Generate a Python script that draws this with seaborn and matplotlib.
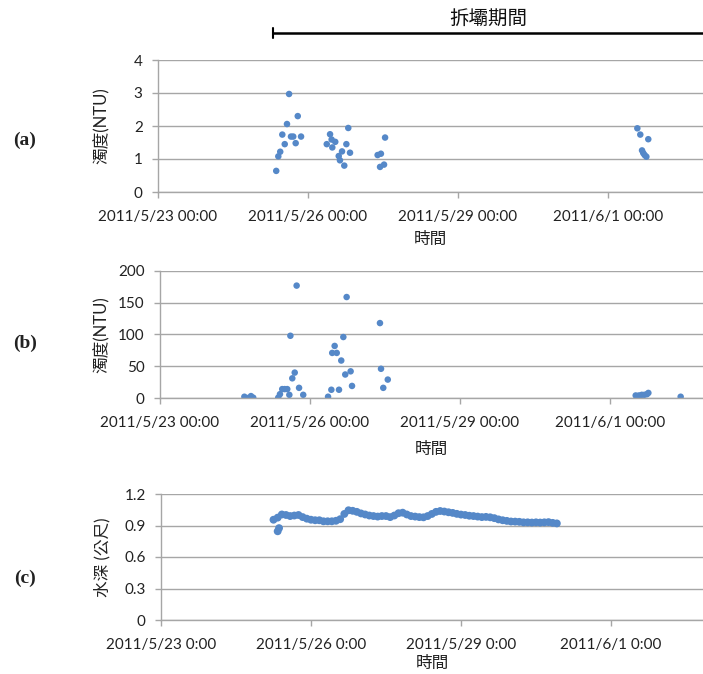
import matplotlib
matplotlib.use("Agg")
import matplotlib.pyplot as plt
import matplotlib.transforms as mtransforms
import pandas as pd
import seaborn as sns

# (a) 濁度 - first station
turb_a_time = [
    "2011-05-25 08:45", "2011-05-25 09:45", "2011-05-25 10:40", "2011-05-25 11:40",
    "2011-05-25 12:50", "2011-05-25 13:55", "2011-05-25 14:55", "2011-05-25 15:50",
    "2011-05-25 16:55", "2011-05-25 18:05", "2011-05-25 19:05", "2011-05-25 20:40",
    "2011-05-26 09:00", "2011-05-26 10:35", "2011-05-26 11:20", "2011-05-26 11:40",
    "2011-05-26 13:05", "2011-05-26 14:45", "2011-05-26 15:20", "2011-05-26 16:20",
    "2011-05-26 17:25", "2011-05-26 18:25", "2011-05-26 19:20", "2011-05-26 20:10",
    "2011-05-27 09:25", "2011-05-27 10:35", "2011-05-27 11:00", "2011-05-27 12:30",
    "2011-05-27 13:00", "2011-06-01 14:05", "2011-06-01 15:30", "2011-06-01 16:20",
    "2011-06-01 16:55", "2011-06-01 17:35", "2011-06-01 18:25", "2011-06-01 19:20",
]
turb_a_ntu = [
    0.64, 1.08, 1.22, 1.74, 1.45, 2.06, 2.97, 1.68, 1.68, 1.48, 2.30, 1.68,
    1.45, 1.75, 1.59, 1.35, 1.52, 1.09, 0.96, 1.23, 0.80, 1.45, 1.94, 1.19,
    1.12, 0.76, 1.16, 0.83, 1.65, 1.93, 1.74, 1.26, 1.18, 1.12, 1.07, 1.60,
]

# (b) 濁度 - second station
turb_b_time = [
    "2011-05-24 16:30", "2011-05-24 18:05", "2011-05-24 19:40", "2011-05-24 20:45",
    "2011-05-25 08:45", "2011-05-25 09:35", "2011-05-25 10:40", "2011-05-25 11:50",
    "2011-05-25 13:05", "2011-05-25 14:05", "2011-05-25 14:35", "2011-05-25 15:30",
    "2011-05-25 16:40", "2011-05-25 17:35", "2011-05-25 18:45", "2011-05-25 20:45",
    "2011-05-26 08:40", "2011-05-26 10:15", "2011-05-26 10:40", "2011-05-26 11:50",
    "2011-05-26 12:50", "2011-05-26 13:55", "2011-05-26 15:00", "2011-05-26 16:00",
    "2011-05-26 16:55", "2011-05-26 17:35", "2011-05-26 19:30", "2011-05-26 20:10",
    "2011-05-27 09:35", "2011-05-27 10:05", "2011-05-27 11:10", "2011-05-27 13:20",
    "2011-06-01 12:20", "2011-06-01 13:55", "2011-06-01 15:15", "2011-06-01 16:30",
    "2011-06-01 17:45", "2011-06-01 18:25", "2011-06-02 09:55",
]
turb_b_ntu = [
    2, 0, 3, 0.5, 0.5, 6, 14, 14, 14, 5, 98, 31, 40, 177, 16, 5,
    2, 13, 71, 82, 71, 13, 59, 96, 37, 159, 42, 19, 118, 46, 16, 29,
    4, 4, 5, 5, 6, 8, 2,
]

# (c) 水深, read every 2 hours from 2011/5/25 06:00
depth_start = "2011-05-25 06:00"
depth_m = [
    0.955, 0.975, 1.005, 1.000, 0.990, 0.995, 1.000, 0.980, 0.965, 0.955,
    0.950, 0.950, 0.940, 0.940, 0.940, 0.945, 0.960, 1.010, 1.045, 1.040,
    1.030, 1.015, 1.005, 0.995, 0.990, 0.985, 0.990, 0.990, 0.980, 0.995,
    1.017, 1.022, 1.005, 0.990, 0.985, 0.980, 0.978, 0.990, 1.010, 1.030,
    1.038, 1.033, 1.026, 1.020, 1.011, 1.004, 1.000, 0.993, 0.990, 0.985,
    0.980, 0.982, 0.978, 0.970, 0.958, 0.950, 0.944, 0.938, 0.937, 0.935,
    0.930, 0.930, 0.928, 0.930, 0.928, 0.930, 0.932, 0.925, 0.920,
]
# short dip right after the logger started
depth_dip_time = ["2011-05-25 08:00", "2011-05-25 08:40"]
depth_dip_m = [0.845, 0.875]

tick_dates = ["2011-05-23", "2011-05-26", "2011-05-29", "2011-06-01"]
tick_labels_ab = ["2011/5/23 00:00", "2011/5/26 00:00", "2011/5/29 00:00", "2011/6/1 00:00"]
tick_labels_c = ["2011/5/23 0:00", "2011/5/26 0:00", "2011/5/29 0:00", "2011/6/1 0:00"]

demolish_start = "2011-05-25 07:00"
demolish_label = "拆壩期間"

sns.set_theme(style="white")
plt.rcParams["font.family"] = ["Lato", "Noto Sans CJK TC"]

dot_color = "#5588c8"
grid_color = "#a6a6a6"

fig = plt.figure(figsize=(7.03, 6.74), dpi=100)
W, H = 703, 674


def make_axes(left_px, top_px, bottom_px):
    return fig.add_axes([left_px / W, 1 - bottom_px / H,
                         1 - left_px / W, (bottom_px - top_px) / H])


ax_a = make_axes(158, 60, 192)
ax_b = make_axes(160, 271, 398)
ax_c = make_axes(161, 494, 620)

df_a = pd.DataFrame({"time": pd.to_datetime(turb_a_time), "val": turb_a_ntu})
df_b = pd.DataFrame({"time": pd.to_datetime(turb_b_time), "val": turb_b_ntu})
depth_times = pd.date_range(depth_start, periods=len(depth_m), freq="2h")
df_c = pd.concat([
    pd.DataFrame({"time": depth_times, "val": depth_m}),
    pd.DataFrame({"time": pd.to_datetime(depth_dip_time), "val": depth_dip_m}),
])

sns.scatterplot(data=df_a, x="time", y="val", ax=ax_a, s=22, color=dot_color,
                edgecolor="none")
sns.scatterplot(data=df_b, x="time", y="val", ax=ax_b, s=22, color=dot_color,
                edgecolor="none")
sns.scatterplot(data=df_c, x="time", y="val", ax=ax_c, s=32, color=dot_color,
                edgecolor="none")

x0 = pd.Timestamp("2011-05-23")
panels = [
    (ax_a, 158, [0, 1, 2, 3, 4], ["0", "1", "2", "3", "4"], "濁度(NTU)",
     tick_labels_ab, "(a)", 140, 5),
    (ax_b, 160, [0, 50, 100, 150, 200], ["0", "50", "100", "150", "200"], "濁度(NTU)",
     tick_labels_ab, "(b)", 343, 8),
    (ax_c, 161, [0, 0.3, 0.6, 0.9, 1.2], ["0", "0.3", "0.6", "0.9", "1.2"], "水深 (公尺)",
     tick_labels_c, "(c)", 578, 2),
]

for ax, left_px, yt, ytl, ylab, xtl, tag, tag_y, xpad in panels:
    days_visible = (W - left_px) / 50
    ax.set_xlim(x0, x0 + pd.Timedelta(days=days_visible))
    ax.set_ylim(yt[0], yt[-1])
    ax.set_yticks(yt)
    ax.set_yticklabels(ytl)
    ax.set_xticks(pd.to_datetime(tick_dates))
    ax.set_xticklabels(xtl)
    ax.grid(axis="y", color=grid_color, lw=1.0)
    ax.grid(axis="x", visible=False)
    for side in ["top", "right"]:
        ax.spines[side].set_visible(False)
    for side in ["left", "bottom"]:
        ax.spines[side].set_color(grid_color)
        ax.spines[side].set_linewidth(1.0)
    ax.tick_params(axis="both", which="major", color=grid_color, length=4,
                   width=1, labelsize=11, labelcolor="#222222", bottom=True, left=True)
    ax.tick_params(axis="y", pad=7)
    ax.tick_params(axis="x", pad=9)
    ax.set_ylabel(ylab, fontsize=12, color="#222222")
    ax.yaxis.set_label_coords(-(left_px - 110) / (W - left_px), 0.5)
    ax.set_xlabel("時間", fontsize=12, color="#222222", labelpad=xpad)
    fig.text(25 / W, 1 - tag_y / H, tag, ha="center", va="center",
             fontsize=14, fontweight="bold", family="Liberation Serif", color="#222222")

# demolition period bar above panel (a)
trans = mtransforms.blended_transform_factory(ax_a.transData, ax_a.transAxes)
bar_start = pd.Timestamp(demolish_start)
bar_end = x0 + pd.Timedelta(days=(W - 158) / 50)
ax_a.plot([bar_start, bar_end], [1.205, 1.205], color="black", lw=1.8,
          transform=trans, clip_on=False)
ax_a.plot([bar_start, bar_start], [1.17, 1.24], color="black", lw=1.5,
          transform=trans, clip_on=False)
mid = (273 + W) / 2
fig.text(mid / W, 1 - 18 / H, demolish_label, ha="center", va="center",
         fontsize=14, color="#111111")

fig.savefig("out.png", dpi=100)
